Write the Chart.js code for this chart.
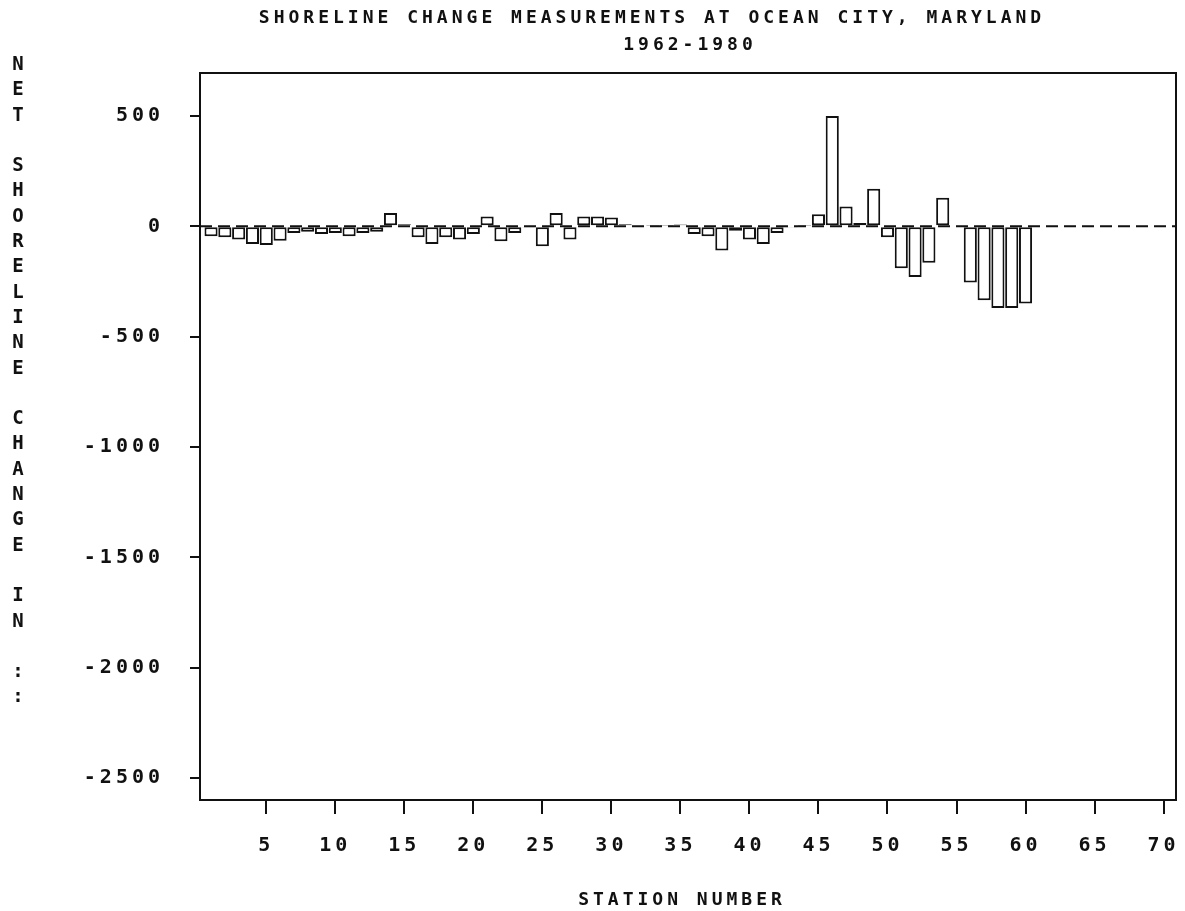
<!DOCTYPE html>
<html>
<head>
<meta charset="utf-8">
<script src="https://cdn.jsdelivr.net/npm/chart.js@4.4.1/dist/chart.umd.min.js"></script>
<style>
  body { margin: 0; background: #fff; }
  canvas { display: block; }
</style>
</head>
<body>
<canvas id="shoreChart" width="1185" height="911"></canvas>
<script>
// Données
const stations = [1, 2, 3, 4, 5, 6, 7, 8, 9, 10,
                  11, 12, 13, 14, 15, 16, 17, 18, 19, 20,
                  21, 22, 23, 24, 25, 26, 27, 28, 29, 30,
                  31, 32, 33, 34, 35, 36, 37, 38, 39, 40,
                  41, 42, 43, 44, 45, 46, 47, 48, 49, 50,
                  51, 52, 53, 54, 55, 56, 57, 58, 59, 60];
const netChange = [-45, -50, -60, -80, -85, -65, -30, -25, -35, -30,
                   -45, -30, -25, 60, 10, -50, -80, -50, -60, -35,
                   45, -68, -30, -5, -90, 60, -60, 45, 45, 40,
                   10, 5, 3, 3, 8, -35, -45, -110, -20, -60,
                   -80, -30, -5, 3, 55, 500, 90, 15, 170, -50,
                   -190, -230, -165, 130, 0, -255, -335, -370, -370, -350];
const xTicks = [5, 10, 15, 20, 25, 30, 35, 40, 45, 50, 55, 60, 65, 70];
const yTicks = [500, 0, -500, -1000, -1500, -2000, -2500];
const titleLines = ['SHORELINE CHANGE MEASUREMENTS AT OCEAN CITY, MARYLAND', '1962-1980'];
const xTitle = 'STATION NUMBER';
const yTitle = 'NET SHORELINE CHANGE IN ::';

const ink = '#111';
const monoFont = '"DejaVu Sans Mono", "Liberation Mono", monospace';

// Textes du graphique (titre, axes)
const textPlugin = {
    id: 'texts',
    beforeDraw(chart) {
        chart.ctx.letterSpacing = '4px';
    },
    beforeDatasetsDraw(chart) {
        const { ctx, chartArea, scales } = chart;
        const y0 = scales.y.getPixelForValue(0);
        ctx.save();
        ctx.strokeStyle = ink;
        ctx.lineWidth = 2;
        ctx.setLineDash([12, 6]);
        ctx.beginPath();
        ctx.moveTo(chartArea.left, y0);
        ctx.lineTo(chartArea.right, y0);
        ctx.stroke();
        ctx.restore();
    },
    afterDraw(chart) {
        const { ctx, chartArea } = chart;
        ctx.save();
        ctx.strokeStyle = ink;
        ctx.lineWidth = 2;
        ctx.setLineDash([]);
        ctx.strokeRect(chartArea.left, chartArea.top, chartArea.right - chartArea.left, chartArea.bottom - chartArea.top);

        ctx.fillStyle = ink;
        ctx.font = 'bold 18px ' + monoFont;
        ctx.letterSpacing = '4px';
        ctx.textAlign = 'center';
        ctx.textBaseline = 'middle';
        ctx.fillText(titleLines[0], 652, 18);
        ctx.fillText(titleLines[1], 690, 45);
        ctx.fillText(xTitle, 682, 900);

        // étiquette verticale, lettres empilées
        ctx.font = 'bold 19px ' + monoFont;
        ctx.letterSpacing = '0px';
        yTitle.split('').forEach((ch, i) => {
            ctx.fillText(ch, 18, 65 + i * 25.3);
        });
        ctx.restore();
    }
};

Chart.defaults.font.family = monoFont;
Chart.defaults.font.weight = 'bold';
Chart.defaults.font.size = 20;
Chart.defaults.color = ink;

const ctx = document.getElementById('shoreChart').getContext('2d');
const shoreChart = new Chart(ctx, {
    type: 'bar',
    data: {
        datasets: [{
            data: stations.map((s, i) => ({ x: s, y: netChange[i] })),
            backgroundColor: '#fff',
            borderColor: ink,
            borderWidth: 2,
            borderSkipped: false,
            barPercentage: 0.95,
            categoryPercentage: 1
        }]
    },
    options: {
        responsive: false,
        devicePixelRatio: 1,
        animation: false,
        layout: {
            padding: { top: 73, right: 9, left: 0, bottom: 0 }
        },
        plugins: {
            legend: { display: false },
            tooltip: { enabled: false }
        },
        scales: {
            x: {
                type: 'linear',
                min: 0.2,
                max: 70.9,
                offset: false,
                afterBuildTicks: axis => { axis.ticks = xTicks.map(v => ({ value: v })); },
                afterFit: axis => {
                    axis.height = 111;
                    axis.paddingLeft = 0;
                    axis.paddingRight = 0;
                },
                ticks: {
                    callback: v => String(v),
                    padding: 20,
                    maxRotation: 0,
                    autoSkip: false
                },
                grid: {
                    offset: false,
                    drawOnChartArea: false,
                    drawTicks: true,
                    tickLength: 14,
                    color: ink,
                    lineWidth: 2
                },
                border: { color: ink, width: 2 }
            },
            y: {
                min: -2600,
                max: 695,
                afterBuildTicks: axis => { axis.ticks = yTicks.map(v => ({ value: v })); },
                afterFit: axis => {
                    axis.width = 200;
                    axis.paddingTop = 0;
                    axis.paddingBottom = 0;
                },
                ticks: {
                    callback: v => String(v),
                    padding: 26
                },
                grid: {
                    drawOnChartArea: false,
                    drawTicks: true,
                    tickLength: 10,
                    color: ink,
                    lineWidth: 2
                },
                border: { color: ink, width: 2 }
            }
        }
    },
    plugins: [textPlugin]
});
</script>
</body>
</html>
